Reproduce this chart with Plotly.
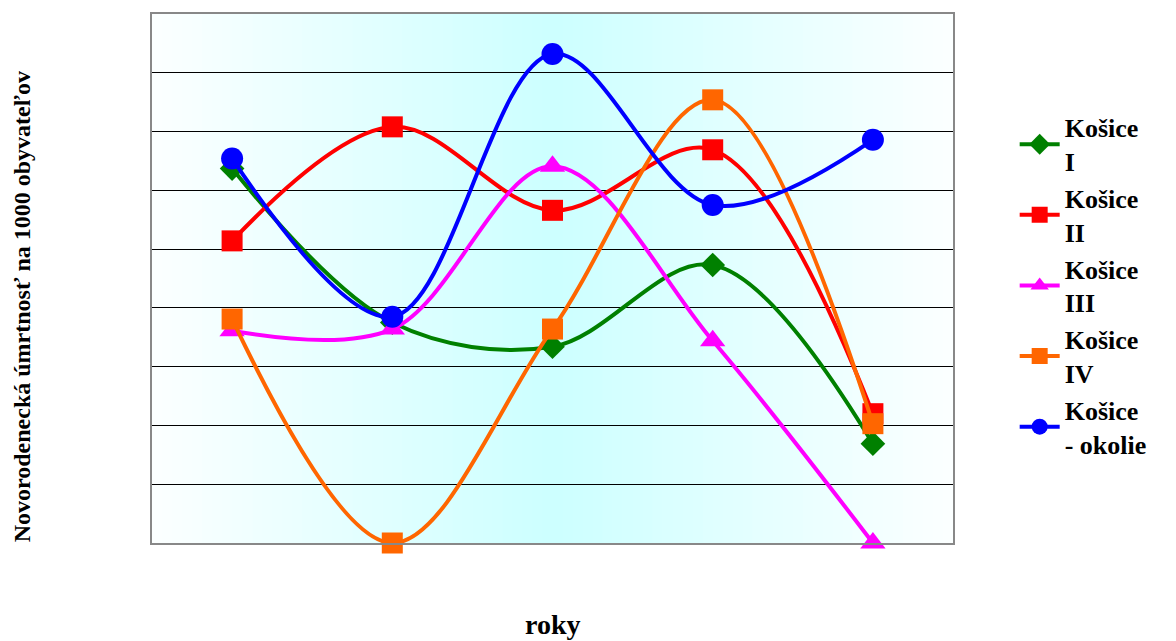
import plotly.graph_objects as go

categories = ["1", "2", "3", "4", "5"]
series_names = ["Košice<br>I", "Košice<br>II", "Košice<br>III", "Košice<br>IV", "Košice<br>- okolie"]
kosice_1 = [6.37, 3.75, 3.34, 4.73, 1.69]
kosice_2 = [5.14, 7.08, 5.66, 6.69, 2.20]
kosice_3 = [3.61, 3.64, 6.41, 3.44, 0.00]
kosice_4 = [3.81, 0.00, 3.64, 7.54, 2.03]
kosice_okolie = [6.54, 3.85, 8.32, 5.75, 6.86]

colors = ["#008000", "#FF0000", "#FF00FF", "#FF6600", "#0000FF"]
symbols = ["diamond", "square", "triangle-up", "square", "circle"]
sizes = [19, 21, 22, 21, 22]
data = [kosice_1, kosice_2, kosice_3, kosice_4, kosice_okolie]

fig = go.Figure()
for name, vals, c, s, sz in zip(series_names, data, colors, symbols, sizes):
    fig.add_trace(go.Scatter(
        x=list(range(len(categories))), y=vals, name=name,
        mode="lines+markers",
        line=dict(color=c, width=4, shape="spline", smoothing=1.0),
        marker=dict(color=c, symbol=s, size=sz),
        cliponaxis=False,
    ))

# horizontal gradient background (light edges, cyan centre)
shapes = []
n = 80
edge = (252, 255, 255)
mid = (204, 255, 255)
for i in range(n):
    t = (i + 0.5) / n
    f = 1 - abs(t - 0.5) * 2
    col = tuple(round(edge[k] + (mid[k] - edge[k]) * f) for k in range(3))
    shapes.append(dict(type="rect", xref="x domain", yref="y domain",
                       x0=i / n, x1=(i + 1) / n + 0.002, y0=0, y1=1,
                       fillcolor="rgb(%d,%d,%d)" % col, line=dict(width=0),
                       layer="below"))

fig.update_layout(
    width=1160, height=633,
    margin=dict(l=144, r=215, t=4, b=98),
    paper_bgcolor="white", plot_bgcolor="rgba(0,0,0,0)",
    shapes=shapes,
    font=dict(family="Liberation Serif", color="black"),
    showlegend=True,
    legend=dict(x=1.077, y=0.83, xanchor="left", yanchor="top",
                font=dict(size=26, family="Liberation Serif", color="black", weight="bold"),
                tracegroupgap=0, itemwidth=40, bgcolor="rgba(0,0,0,0)"),
    xaxis=dict(range=[-0.5, 4.5], showgrid=False, showticklabels=False, ticks="",
               showline=True, linecolor="#888888", linewidth=2, mirror=True, zeroline=False),
    yaxis=dict(range=[0, 9], dtick=1, showgrid=True, gridcolor="black", gridwidth=1,
               showticklabels=False, ticks="", showline=True, linecolor="#888888",
               linewidth=2, mirror=True, zeroline=False),
    annotations=[
        dict(text="<b>Novorodenecká úmrtnosť na 1000 obyvateľov</b>", xref="paper", yref="paper",
             x=-0.162, y=0.446, xanchor="center", yanchor="middle", textangle=-90,
             showarrow=False, font=dict(size=24, family="Liberation Serif", color="black")),
        dict(text="<b>roky</b>", xref="paper", yref="paper", x=0.5, y=-0.155,
             xanchor="center", yanchor="middle", showarrow=False,
             font=dict(size=28, family="Liberation Serif", color="black")),
    ],
)

fig.write_html("out.html")
